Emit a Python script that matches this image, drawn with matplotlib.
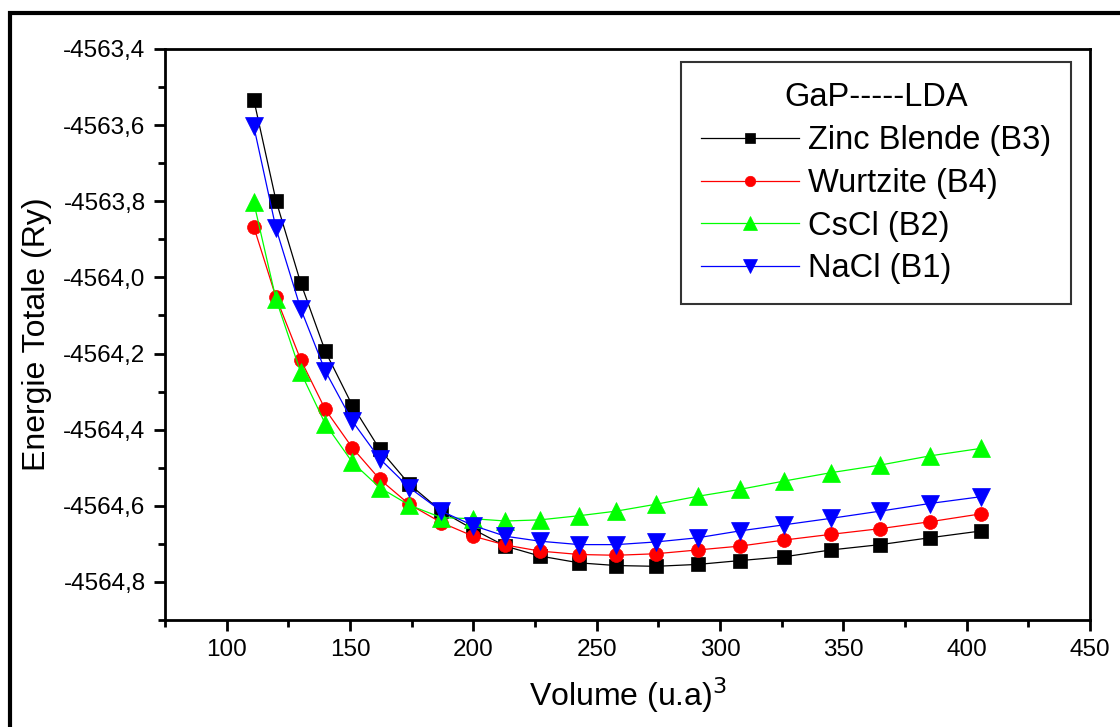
import matplotlib
matplotlib.use("Agg")
import matplotlib.pyplot as plt
from matplotlib.ticker import MultipleLocator, FuncFormatter
from matplotlib.patches import Rectangle

# ---- data ----
volume = [111, 120, 130, 140, 151, 162, 174, 187, 200, 213, 227,
          243, 258, 274, 291, 308, 326, 345, 365, 385, 406]

e_zb = [-4563.533, -4563.798, -4564.014, -4564.194, -4564.337, -4564.451,
        -4564.543, -4564.614, -4564.662, -4564.706, -4564.732, -4564.750,
        -4564.757, -4564.759, -4564.754, -4564.744, -4564.734, -4564.716,
        -4564.702, -4564.684, -4564.666]
e_wz = [-4563.867, -4564.052, -4564.216, -4564.347, -4564.448, -4564.530,
        -4564.596, -4564.644, -4564.680, -4564.703, -4564.719, -4564.728,
        -4564.730, -4564.726, -4564.716, -4564.706, -4564.690, -4564.675,
        -4564.660, -4564.642, -4564.621]
e_cscl = [-4563.803, -4564.057, -4564.249, -4564.385, -4564.486, -4564.552,
          -4564.598, -4564.631, -4564.634, -4564.640, -4564.637, -4564.626,
          -4564.614, -4564.596, -4564.575, -4564.557, -4564.535, -4564.513,
          -4564.493, -4564.469, -4564.449]
e_nacl = [-4563.603, -4563.871, -4564.082, -4564.246, -4564.378, -4564.476,
          -4564.552, -4564.614, -4564.652, -4564.680, -4564.693, -4564.702,
          -4564.702, -4564.695, -4564.684, -4564.666, -4564.650, -4564.633,
          -4564.614, -4564.594, -4564.576]

labels = ["Zinc Blende (B3)", "Wurtzite (B4)", "CsCl (B2)", "NaCl (B1)"]
legend_title = "GaP-----LDA"
xlabel = "Volume (u.a)$^{3}$"
ylabel = "Energie Totale (Ry)"

plt.rcParams['font.family'] = ['Liberation Sans', 'DejaVu Sans']

fig = plt.figure(figsize=(11.2, 7.27), dpi=100)
ax = fig.add_axes([0.1473, 0.1472, 0.9732 - 0.1473, 0.9326 - 0.1472])

series = [
    (e_zb, "black", "s", 9.5),
    (e_wz, "#ff0000", "o", 10.0),
    (e_cscl, "#00ff00", "^", 12.5),
    (e_nacl, "#0000ff", "v", 12.5),
]
for (vals, col, mk, ms), lab in zip(series, labels):
    ax.plot(volume, vals, color=col, lw=0.9, marker=mk, markersize=ms,
            markerfacecolor=col, markeredgecolor=col, markeredgewidth=0.5,
            label=lab)

ax.set_xlim(75, 450)
ax.set_ylim(-4564.9, -4563.4)
ax.xaxis.set_major_locator(MultipleLocator(50))
ax.xaxis.set_minor_locator(MultipleLocator(25))
ax.yaxis.set_major_locator(MultipleLocator(0.2))
ax.yaxis.set_minor_locator(MultipleLocator(0.1))
ax.yaxis.set_major_formatter(FuncFormatter(lambda v, p: ("%.1f" % v).replace(".", ",")))
ax.xaxis.set_major_formatter(FuncFormatter(lambda v, p: "%d" % round(v)))

ax.tick_params(which="major", direction="out", length=8, width=2,
               labelsize=17.5, top=False, right=False, pad=6)
ax.tick_params(which="minor", direction="out", length=5, width=2,
               top=False, right=False)
for sp in ax.spines.values():
    sp.set_linewidth(2)

ax.set_xlabel(xlabel, fontsize=23, labelpad=10)
ax.set_ylabel(ylabel, fontsize=23, labelpad=8)

leg = ax.legend(title=legend_title, loc="upper right",
                bbox_to_anchor=(0.9795, 0.977), fontsize=23.5,
                title_fontsize=23.5, frameon=True, fancybox=False,
                edgecolor="black", handlelength=3.0, handletextpad=0.3,
                labelspacing=0.36, borderpad=0.6, markerscale=0.75,
                borderaxespad=0)
leg._legend_box.sep = 9
leg.get_frame().set_linewidth(1.5)

# outer frame
fig.patches.append(Rectangle((10 / 1120, -0.1), 1.2, 1 - 12.7 / 727 + 0.1,
                             transform=fig.transFigure, fill=False,
                             edgecolor="black", linewidth=3, zorder=0))

fig.savefig("out.png", dpi=100)
